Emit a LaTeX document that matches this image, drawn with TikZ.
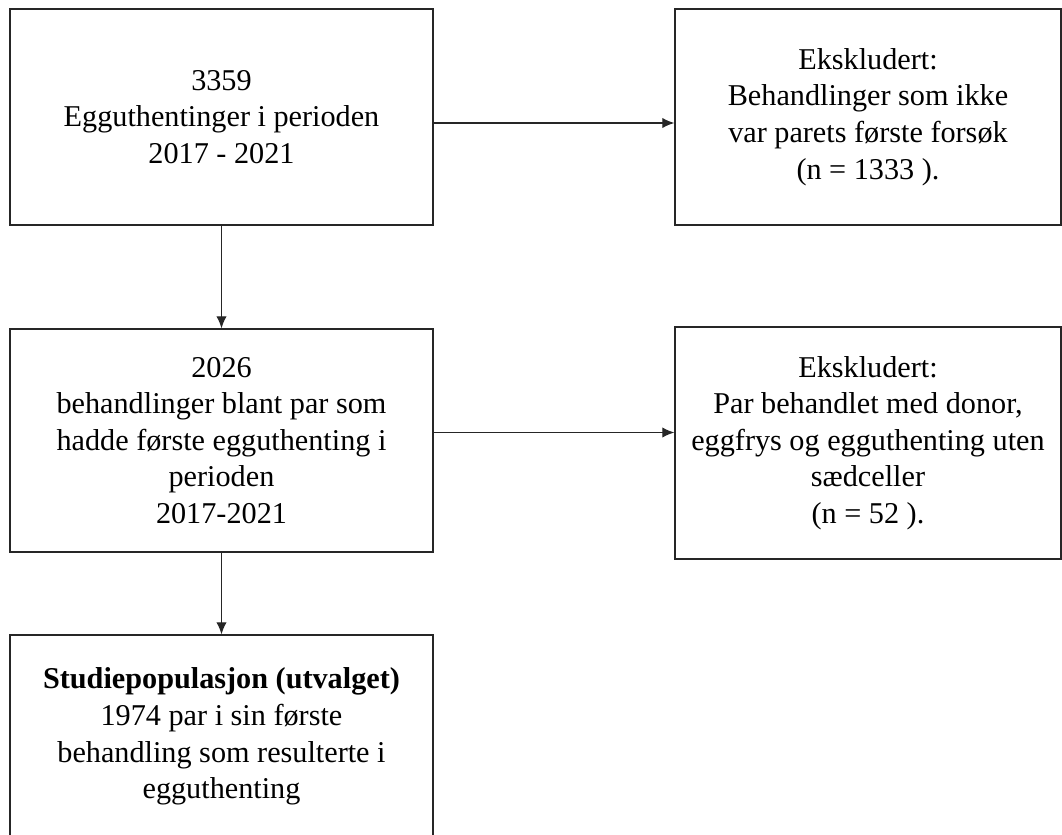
\documentclass[tikz,border=0pt]{standalone}
\usepackage{fontspec}
\setmainfont{Liberation Serif}
\usepackage{tikz}
\usetikzlibrary{arrows.meta,positioning}

\begin{document}
\begin{tikzpicture}[
    box/.style={rectangle, draw=black!85, line width=1pt, align=center, inner sep=0pt,
                font=\fontsize{21.5}{26}\selectfont},
    leftbox/.style={box, minimum width=10.575cm},
    rightbox/.style={box, minimum width=9.65cm},
    arrow/.style={-{Latex[length=3mm,width=2.6mm]}, line width=0.9pt, draw=black!85}
]
\useasboundingbox (0,0) rectangle (26.55,-20.875);
\clip (0,0) rectangle (26.55,-20.875);
\node[leftbox, minimum height=5.4cm] (hent) at (5.5375,-2.925) {3359\\Egguthentinger i perioden\\2017 - 2021};
\node[rightbox, minimum height=5.4cm] (eks1) at (21.7,-2.925) {Ekskludert:\\Behandlinger som ikke\\var parets første forsøk\\(n = 1333 ).};
\node[leftbox, minimum height=5.575cm] (beh) at (5.5375,-11.0125) {2026\\behandlinger blant par som\\hadde første egguthenting i\\perioden\\2017-2021};
\node[rightbox, minimum height=5.8cm] (eks2) at (21.7,-11.075) {Ekskludert:\\Par behandlet med donor,\\eggfrys og egguthenting uten\\sædceller\\(n = 52 ).};
\node[leftbox, minimum height=5.075cm] (studie) at (5.5375,-18.4125) {\textbf{Studiepopulasjon (utvalget)}\\1974 par i sin første\\behandling som resulterte i\\egguthenting};

\draw[arrow] ([yshift=-1.5mm]hent.east) -- ([yshift=-1.5mm]hent.east -| eks1.west);
\draw[arrow] (hent) -- (beh);
\draw[arrow] ([yshift=2mm]beh.east) -- ([yshift=2mm]beh.east -| eks2.west);
\draw[arrow] (beh) -- (studie);
\end{tikzpicture}
\end{document}
